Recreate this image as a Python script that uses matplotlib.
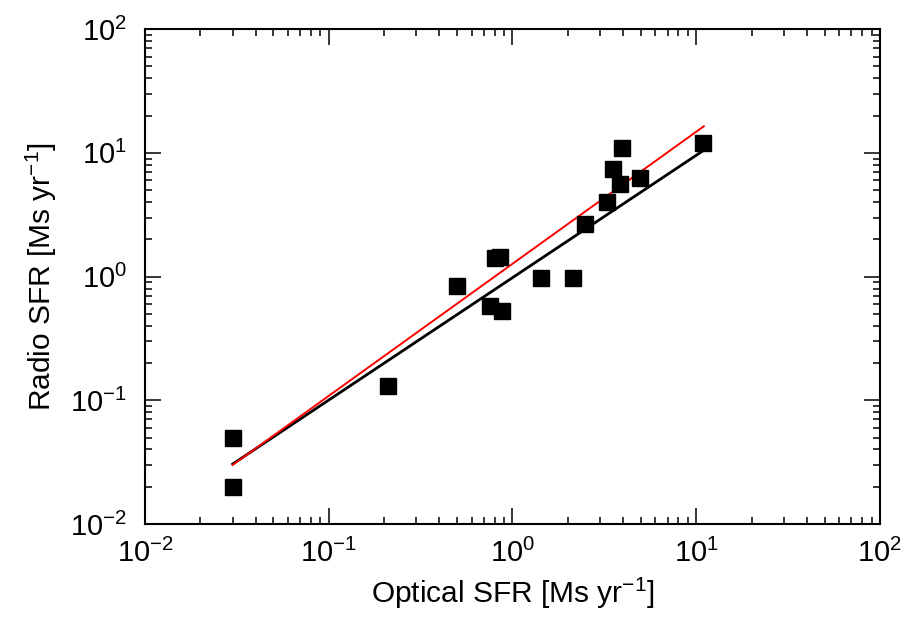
import matplotlib
matplotlib.use('Agg')
import matplotlib.pyplot as plt
from matplotlib.ticker import LogLocator, NullFormatter

plt.rcParams['font.family'] = ['Liberation Sans', 'DejaVu Sans']
plt.rcParams['mathtext.fontset'] = 'custom'
plt.rcParams['mathtext.rm'] = 'Liberation Sans'
plt.rcParams['mathtext.it'] = 'Liberation Sans'

# galaxies: optical vs radio SFR
optical_sfr = [0.03, 0.03, 0.21, 0.50, 0.75, 0.88, 0.80, 0.85, 1.43, 2.13,
               2.48, 3.27, 3.52, 3.85, 3.94, 4.94, 10.9]
radio_sfr = [0.05, 0.02, 0.13, 0.84, 0.58, 0.53, 1.40, 1.45, 0.97, 0.97,
             2.66, 4.0, 7.4, 5.6, 10.9, 6.25, 12.0]

# fit lines
fit_x = [0.03, 11.0]
fit_black = [0.0305, 10.5]
fit_red = [0.0300, 16.4]

fig = plt.figure(figsize=(9.04, 6.24), dpi=100)
ax = fig.add_axes([0.1604, 0.1603, 0.813, 0.793])

ax.plot(fit_x, fit_black, color='black', lw=2.0, zorder=2)
ax.plot(fit_x, fit_red, color='red', lw=1.4, zorder=3)
ax.plot(optical_sfr, radio_sfr, 's', color='black', ms=11.5, zorder=4)

ax.set_xscale('log')
ax.set_yscale('log')
ax.set_xlim(1e-2, 1e2)
ax.set_ylim(1e-2, 1e2)

for axis in (ax.xaxis, ax.yaxis):
    axis.set_major_locator(LogLocator(base=10, numticks=10))
    axis.set_minor_locator(LogLocator(base=10, subs=range(2, 10), numticks=10))
    axis.set_minor_formatter(NullFormatter())

ax.tick_params(which='both', direction='in', top=True, right=True, width=1.1)
ax.tick_params(which='major', length=11.5, labelsize=21)
ax.tick_params(axis='x', which='major', pad=11)
ax.tick_params(axis='y', which='major', pad=13)
ax.tick_params(which='minor', length=5)
for s in ax.spines.values():
    s.set_linewidth(1.5)

ax.set_xlabel(r'Optical SFR [Ms yr$^{-1}$]', fontsize=21.5, labelpad=5)
ax.set_ylabel(r'Radio SFR [Ms yr$^{-1}$]', fontsize=21.5, labelpad=8)

fig.savefig('out.png', dpi=100)
